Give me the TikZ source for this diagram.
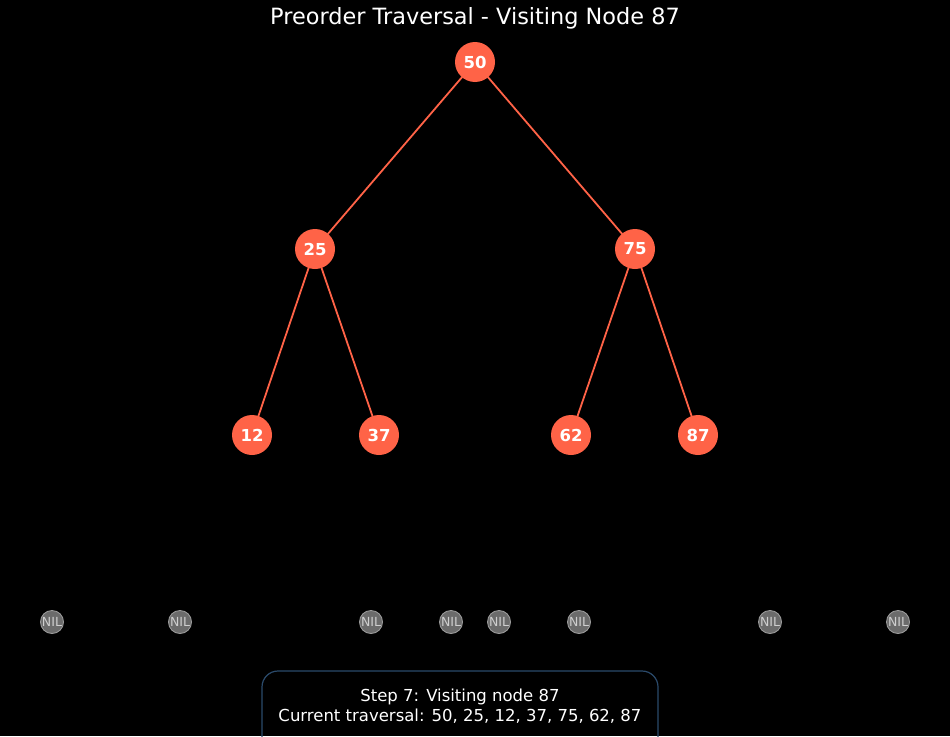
\documentclass[tikz,border=0pt]{standalone}
\usepackage{fontspec}
\setmainfont{DejaVu Sans}
\definecolor{tomatoc}{HTML}{FF6347}
\definecolor{nilfill}{HTML}{6B6B6B}
\definecolor{nilline}{HTML}{9A9A9A}
\definecolor{niltext}{HTML}{CFCFCF}
\definecolor{boxline}{HTML}{2B4A6B}
\begin{document}
\begin{tikzpicture}[x=1pt,y=-1pt,
  tnode/.style={circle,fill=tomatoc,minimum size=40pt,inner sep=0pt,text=white,font=\fontsize{16.5}{19}\selectfont\bfseries},
  nilnode/.style={circle,fill=nilfill,draw=nilline,line width=0.9pt,minimum size=23pt,inner sep=0pt,text=niltext,font=\fontsize{12.5}{14}\selectfont},
  tedge/.style={draw=tomatoc,line width=1.8pt}]
\fill[black] (0,0) rectangle (950,736);
\useasboundingbox (0,0) rectangle (950,736);
\node[text=white,font=\fontsize{22.4}{26}\selectfont] (title) at (475,18) {Preorder Traversal - Visiting Node 87};
\coordinate (c50) at (475,62);
\coordinate (c25) at (315,249);
\coordinate (c75) at (635,249);
\coordinate (c12) at (252,435);
\coordinate (c37) at (379,435);
\coordinate (c62) at (571,435);
\coordinate (c87) at (698,435);
\draw[tedge] (c50) -- (c25);
\draw[tedge] (c50) -- (c75);
\draw[tedge] (c25) -- (c12);
\draw[tedge] (c25) -- (c37);
\draw[tedge] (c75) -- (c62);
\draw[tedge] (c75) -- (c87);
\node[tnode] (n50) at (c50) {50};
\node[tnode] (n25) at (c25) {25};
\node[tnode] (n75) at (c75) {75};
\node[tnode] (n12) at (c12) {12};
\node[tnode] (n37) at (c37) {37};
\node[tnode] (n62) at (c62) {62};
\node[tnode] (n87) at (c87) {87};
\foreach \x [count=\i] in {52,180,371,451,499,579,770,898}
  \node[nilnode] (nil\i) at (\x,622) {NIL};
\draw[boxline,line width=1.2pt,rounded corners=16pt] (262,671) rectangle (658,760);
\node[text=white,font=\fontsize{16.5}{20}\selectfont,align=center] (info) at (460,706) {Step 7: Visiting node 87\\Current traversal: 50, 25, 12, 37, 75, 62, 87};
\end{tikzpicture}
\end{document}
